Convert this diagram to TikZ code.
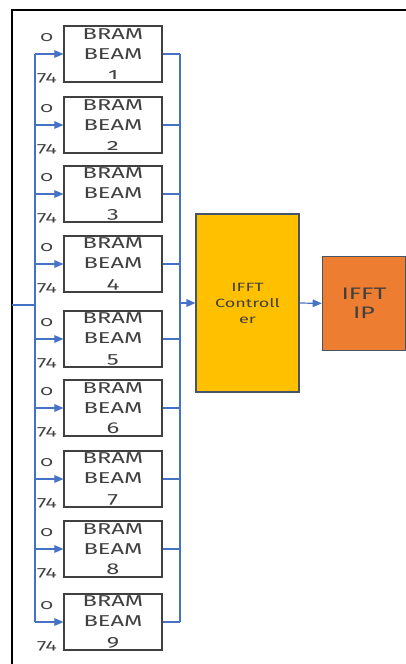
\documentclass[tikz,border=0pt]{standalone}
\usepackage{fontspec}
\newfontfamily\bramfont[FakeStretch=1.5,Numbers=OldStyle]{Fira Sans}
\usetikzlibrary{arrows.meta, positioning, calc}
\definecolor{ifBlue}{HTML}{4472C4}
\definecolor{ifGold}{HTML}{FFC000}
\definecolor{ifOrange}{HTML}{ED7D31}
\definecolor{ifGrey}{HTML}{404040}
\definecolor{ifEdge}{HTML}{44546A}
\tikzset{
  frameline/.style = {line width=1.6pt, black},
  bus/.style       = {ifBlue, line width=1.1pt},
  feed/.style      = {ifBlue, line width=0.9pt, -{Triangle[length=2.4mm, width=2mm]}},
  brambox/.style   = {draw=ifGrey, line width=0.8pt, inner sep=0pt,
                      minimum width=73.5pt, minimum height=42pt, align=center,
                      text=ifGrey, font=\bramfont\fontsize{11.8}{15}\selectfont},
  ctrlbox/.style   = {draw=ifEdge, fill=ifGold, line width=0.8pt, inner sep=0pt,
                      minimum width=77.25pt, minimum height=133.5pt, align=center,
                      text=ifGrey, font=\bramfont\fontsize{9}{12}\selectfont},
  ipbox/.style     = {draw=ifEdge, fill=ifOrange, line width=0.8pt, inner sep=0pt,
                      minimum width=62.5pt, minimum height=70.5pt, align=center,
                      text=ifGrey, font=\bramfont\fontsize{12.5}{14.25}\selectfont},
  portlbl/.style   = {inner sep=0pt, anchor=east, text=ifGrey,
                      font=\bramfont\fontsize{10.5}{12}\selectfont},
}
\begin{document}
\begin{tikzpicture}[x=0.75pt, y=-0.75pt]
  \useasboundingbox (0,0) rectangle (406,664);
  % frame
  \draw[frameline] (12,664) -- (12,10) -- (406,10);
  % bram beams
  \foreach \n/\ytop in {1/26,2/97,3/166,4/236,5/311,6/380,7/451,8/521,9/594} {
    \node[brambox] (bram\n) at (113,\ytop+28) {BRAM\\BEAM\\\n};
    \node[portlbl] (lo\n) at ($(bram\n.north west)+(-10,12)$) {0};
    \node[portlbl] (hi\n) at ($(bram\n.south west)+(-7,-4)$) {74};
  }
  % busses
  \coordinate (lbusTop) at (35,54);
  \coordinate (lbusBot) at (35,622);
  \coordinate (rbusTop) at (180,54);
  \coordinate (rbusBot) at (180,622);
  \coordinate (inp) at (12,305);
  \draw[bus] (lbusTop) -- (lbusBot);
  \draw[bus] (rbusTop) -- (rbusBot);
  \draw[bus] (inp) -- (inp -| lbusTop);
  \foreach \n in {1,...,9} {
    \draw[feed] (lbusTop |- bram\n.west) -- (bram\n.west);
    \draw[bus] (bram\n.east) -- (rbusTop |- bram\n.east);
  }
  % ifft
  \node[ctrlbox] (ctrl) at (247.5,303) {IFFT\\Controll\\er};
  \node[ipbox] (ip) at (364,303.4) {IFFT\\IP};
  \draw[feed, line width=1.3pt] (rbusTop |- ctrl.west) -- (ctrl.west);
  \draw[feed] (ctrl.east) -- (ip.west);
\end{tikzpicture}
\end{document}
